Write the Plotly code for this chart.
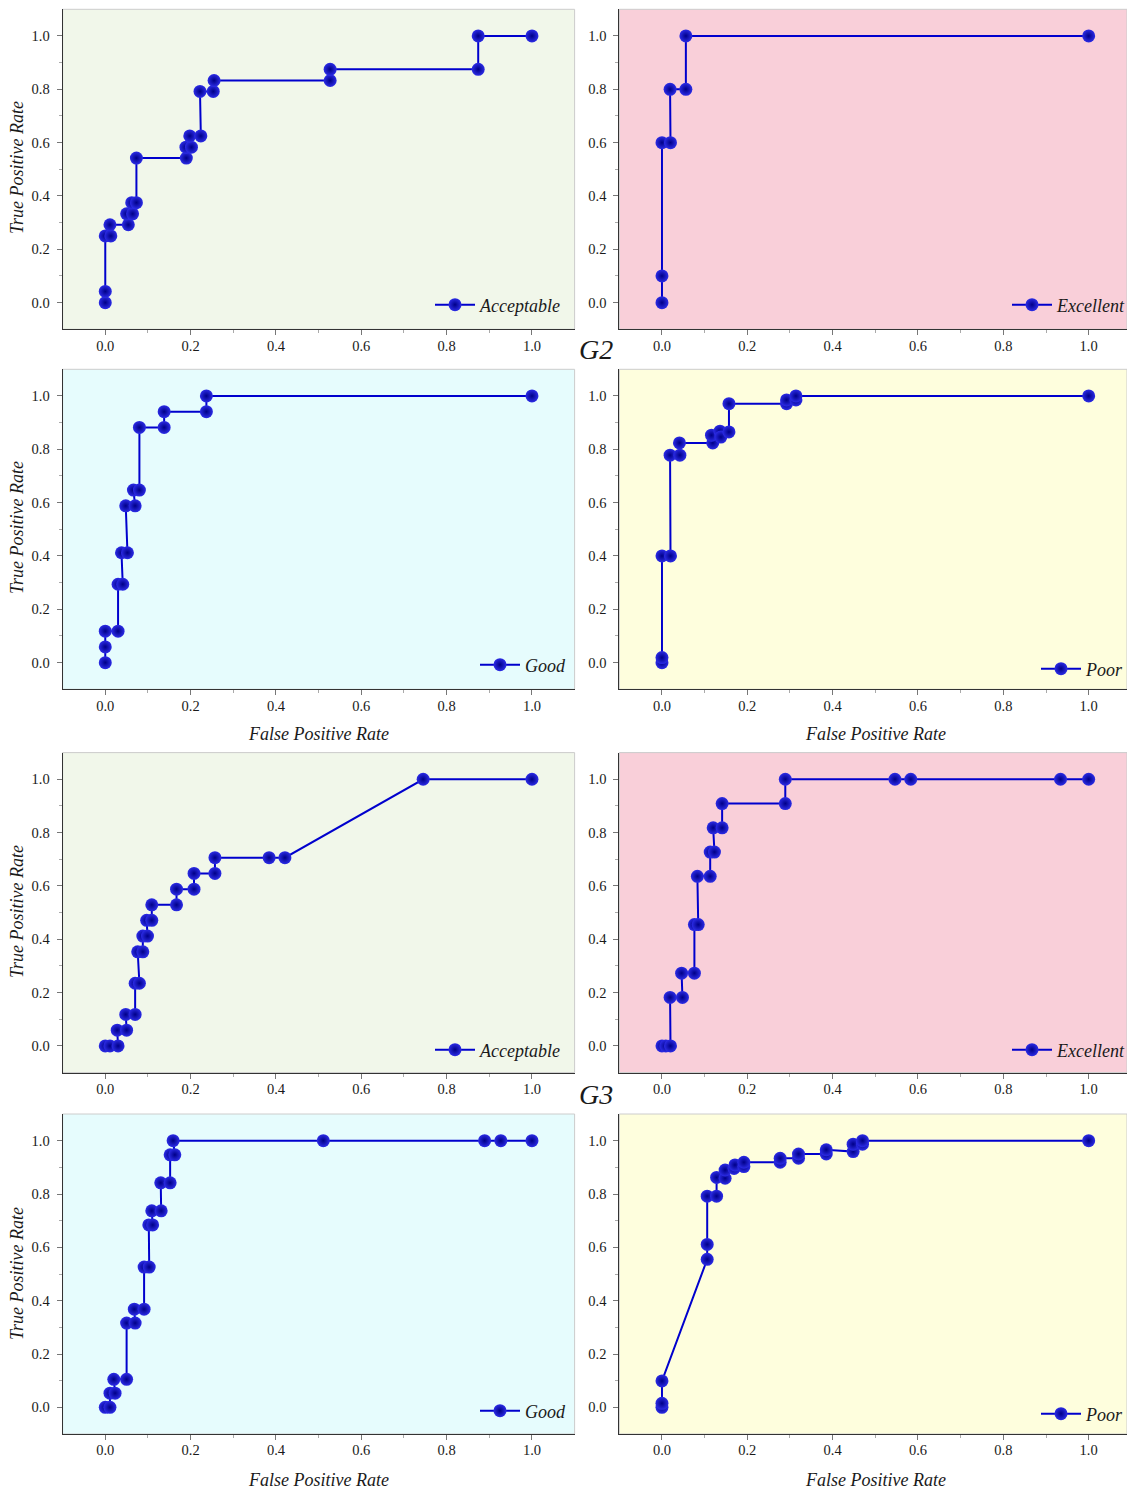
import plotly.graph_objects as go

# ROC curves: FPR / TPR pairs for each panel
g1_acc_fpr = [0, 0, 0, 0.013, 0.011, 0.054, 0.050, 0.064, 0.062, 0.073, 0.073, 0.190, 0.189, 0.202,
              0.198, 0.224, 0.222, 0.253, 0.255, 0.527, 0.527, 0.874, 0.874, 1.0]
g1_acc_tpr = [0, 0.042, 0.25, 0.25, 0.292, 0.292, 0.333, 0.333, 0.375, 0.375, 0.542, 0.542, 0.583, 0.583,
              0.625, 0.625, 0.792, 0.792, 0.833, 0.833, 0.875, 0.875, 1.0, 1.0]

g1_exc_fpr = [0, 0, 0, 0.020, 0.019, 0.056, 0.056, 1.0]
g1_exc_tpr = [0, 0.1, 0.6, 0.6, 0.8, 0.8, 1.0, 1.0]

g2_good_fpr = [0, 0, 0, 0.030, 0.030, 0.041, 0.038, 0.052, 0.048, 0.070, 0.066, 0.080, 0.080, 0.138,
               0.138, 0.237, 0.237, 1.0]
g2_good_tpr = [0, 0.059, 0.118, 0.118, 0.294, 0.294, 0.412, 0.412, 0.588, 0.588, 0.647, 0.647, 0.882,
               0.882, 0.941, 0.941, 1.0, 1.0]

g2_poor_fpr = [0, 0, 0, 0.020, 0.019, 0.042, 0.041, 0.119, 0.116, 0.136, 0.138, 0.157, 0.157, 0.292,
               0.292, 0.314, 0.314, 1.0]
g2_poor_tpr = [0, 0.019, 0.40, 0.40, 0.778, 0.778, 0.824, 0.824, 0.853, 0.868, 0.846, 0.865, 0.971,
               0.971, 0.985, 0.985, 1.0, 1.0]

g3_acc_fpr = [0, 0.011, 0.030, 0.028, 0.050, 0.048, 0.070, 0.070, 0.080, 0.076, 0.088, 0.088, 0.099,
              0.097, 0.109, 0.109, 0.167, 0.167, 0.208, 0.208, 0.257, 0.257, 0.384, 0.421, 0.745, 1.0]
g3_acc_tpr = [0, 0, 0, 0.059, 0.059, 0.118, 0.118, 0.235, 0.235, 0.353, 0.353, 0.412, 0.412, 0.471,
              0.471, 0.529, 0.529, 0.588, 0.588, 0.647, 0.647, 0.706, 0.706, 0.706, 1.0, 1.0]

g3_exc_fpr = [0, 0.009, 0.020, 0.019, 0.048, 0.046, 0.076, 0.076, 0.085, 0.083, 0.113, 0.113, 0.123,
              0.120, 0.141, 0.141, 0.289, 0.289, 0.546, 0.583, 0.934, 1.0]
g3_exc_tpr = [0, 0, 0, 0.182, 0.182, 0.273, 0.273, 0.455, 0.455, 0.636, 0.636, 0.727, 0.727, 0.818,
              0.818, 0.909, 0.909, 1.0, 1.0, 1.0, 1.0, 1.0]

g4_good_fpr = [0, 0.011, 0.011, 0.023, 0.020, 0.050, 0.050, 0.070, 0.068, 0.091, 0.091, 0.103, 0.102,
               0.111, 0.109, 0.131, 0.130, 0.152, 0.152, 0.163, 0.159, 0.511, 0.889, 0.927, 1.0]
g4_good_tpr = [0, 0, 0.053, 0.053, 0.105, 0.105, 0.316, 0.316, 0.368, 0.368, 0.526, 0.526, 0.684,
               0.684, 0.737, 0.737, 0.842, 0.842, 0.947, 0.947, 1.0, 1.0, 1.0, 1.0, 1.0]

g4_poor_fpr = [0, 0, 0, 0.106, 0.106, 0.106, 0.128, 0.128, 0.148, 0.148, 0.169, 0.171, 0.192, 0.192,
               0.277, 0.277, 0.320, 0.320, 0.385, 0.385, 0.448, 0.448, 0.470, 0.470, 1.0]
g4_poor_tpr = [0, 0.015, 0.099, 0.555, 0.611, 0.792, 0.792, 0.862, 0.859, 0.890, 0.896, 0.909, 0.903,
               0.919, 0.919, 0.934, 0.934, 0.950, 0.950, 0.966, 0.959, 0.987, 0.987, 1.0, 1.0]

panel_names = ["Acceptable", "Excellent", "Good", "Poor", "Acceptable", "Excellent", "Good", "Poor"]
tick_vals = [0.0, 0.2, 0.4, 0.6, 0.8, 1.0]
tick_text = ["0.0", "0.2", "0.4", "0.6", "0.8", "1.0"]

curves = [
    (g1_acc_fpr, g1_acc_tpr), (g1_exc_fpr, g1_exc_tpr),
    (g2_good_fpr, g2_good_tpr), (g2_poor_fpr, g2_poor_tpr),
    (g3_acc_fpr, g3_acc_tpr), (g3_exc_fpr, g3_exc_tpr),
    (g4_good_fpr, g4_good_tpr), (g4_poor_fpr, g4_poor_tpr),
]

W, H = 1127, 1491
FONT = "Liberation Serif"
SCALE = 426.7  # pixels per x unit

# plot-area pixel boxes
col_px = [(62.6, 574.6), (619.3, 1127.0)]
row_px = [(9.3, 329.3), (369.3, 689.3), (752.6, 1072.6), (1114.0, 1434.0)]
bg_colors = ["#f1f7ea", "#f9cfd9", "#e6fcfd", "#fefedd"]
legend_px = [(455, 305), (1032, 305), (500, 665), (1061, 669),
             (455, 1050), (1032, 1050), (500, 1411), (1061, 1414)]

fig = go.Figure()
layout = dict(width=W, height=H, autosize=False, showlegend=True,
              margin=dict(l=0, r=0, t=0, b=0, pad=0, autoexpand=False),
              paper_bgcolor="white", plot_bgcolor="rgba(0,0,0,0)",
              font=dict(family=FONT, size=14.5, color="#1a1a1a"),
              shapes=[], annotations=[])

for i, (fx, ty) in enumerate(curves):
    r, c = divmod(i, 2)
    n = i + 1
    xa = "x" if n == 1 else f"x{n}"
    ya = "y" if n == 1 else f"y{n}"
    lg = "legend" if n == 1 else f"legend{n}"
    fig.add_trace(go.Scatter(
        x=fx, y=ty, xaxis=xa, yaxis=ya, legend=lg, name=panel_names[i],
        mode="lines+markers", showlegend=True,
        line=dict(color="#0000cd", width=2),
        marker=dict(size=13, color="#2c2ce6",
                    gradient=dict(type="radial", color="#000088"),
                    line=dict(width=0)),
    ))
    l, rr = col_px[c]
    t, b = row_px[r]
    xr = [-0.1, -0.1 + (rr - l) / SCALE]
    common = dict(showgrid=False, zeroline=False, showline=True, linecolor="#333333", linewidth=1,
                  ticks="outside", ticklen=5, tickcolor="#777777", tickwidth=1,
                  tickvals=tick_vals, ticktext=tick_text,
                  minor=dict(tickvals=[0.1, 0.3, 0.5, 0.7, 0.9], ticks="outside", ticklen=3,
                             tickcolor="#aaaaaa"),
                  tickfont=dict(family=FONT, size=14.5, color="#1a1a1a"))
    layout["xaxis" if n == 1 else f"xaxis{n}"] = dict(
        common, domain=[l / W, rr / W], range=xr, anchor=ya, ticklabelstandoff=-2)
    layout["yaxis" if n == 1 else f"yaxis{n}"] = dict(
        common, domain=[1 - b / H, 1 - t / H], range=[-0.1, 1.1], anchor=xa, ticklabelstandoff=4)
    # panel background and light frame
    layout["shapes"].append(dict(type="rect", xref=f"{xa} domain", yref=f"{ya} domain",
                                 x0=0, x1=1, y0=0, y1=1, fillcolor=bg_colors[i % 4],
                                 line=dict(color="#cccccc", width=1), layer="below"))
    mx, my = legend_px[i]
    layout[lg] = dict(x=(mx - 25) / W, y=1 - my / H, xanchor="left", yanchor="middle",
                      bgcolor="rgba(0,0,0,0)", borderwidth=0, itemwidth=40,
                      font=dict(family=FONT, size=18, color="#1a1a1a", style="italic"))

# axis titles
title_font = dict(family=FONT, size=18, color="#1a1a1a", style="italic")
for yc in [168, 528, 912, 1274]:
    layout["annotations"].append(dict(text="True Positive Rate", xref="paper", yref="paper",
                                      x=17 / W, y=1 - yc / H, showarrow=False, textangle=-90,
                                      font=title_font, xanchor="center", yanchor="middle"))
for xc in [318.6, 875]:
    for yc in [734, 1480]:
        layout["annotations"].append(dict(text="False Positive Rate", xref="paper", yref="paper",
                                          x=xc / W, y=1 - yc / H, showarrow=False,
                                          font=title_font, xanchor="center", yanchor="middle"))
# group labels
for label, yc in [("G2", 349), ("G3", 1094)]:
    layout["annotations"].append(dict(text=label, xref="paper", yref="paper",
                                      x=596 / W, y=1 - yc / H, showarrow=False,
                                      font=dict(family=FONT, size=28, color="#1a1a1a", style="italic"),
                                      xanchor="center", yanchor="middle"))

fig.update_layout(**layout)
fig.write_html("out.html")
